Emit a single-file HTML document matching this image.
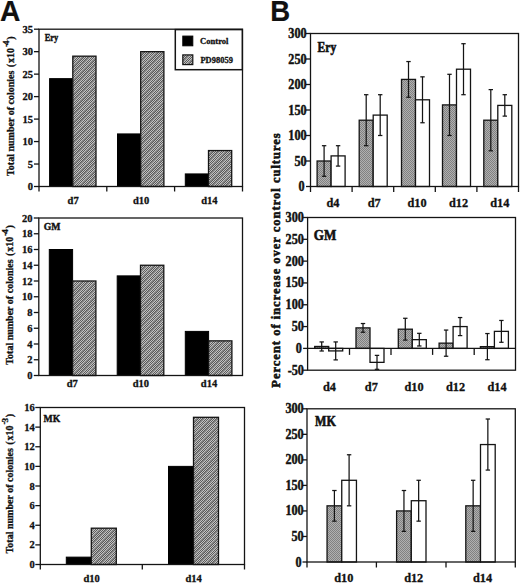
<!DOCTYPE html><html><head><meta charset="utf-8"><title>Figure</title>
<style>html,body{margin:0;padding:0;background:#fff;}svg{display:block;}text{font-family:"Liberation Serif",serif;font-weight:bold;fill:#111;stroke:#111;stroke-width:0.3px;}.sans{font-family:"Liberation Sans",sans-serif;}</style></head><body>
<svg width="520" height="585" viewBox="0 0 520 585">
<defs>
<pattern id="hatch" patternUnits="userSpaceOnUse" width="14" height="14"><path d="M0 0h1v1h-1zM2 0h1v1h-1zM4 0h1v1h-1zM8 0h1v1h-1zM10 0h1v1h-1zM1 1h1v1h-1zM3 1h1v1h-1zM7 1h1v1h-1zM9 1h1v1h-1zM13 1h1v1h-1zM0 2h1v1h-1zM2 2h1v1h-1zM6 2h1v1h-1zM8 2h1v1h-1zM12 2h1v1h-1zM1 3h1v1h-1zM5 3h1v1h-1zM7 3h1v1h-1zM11 3h1v1h-1zM13 3h1v1h-1zM0 4h1v1h-1zM4 4h1v1h-1zM6 4h1v1h-1zM10 4h1v1h-1zM12 4h1v1h-1zM3 5h1v1h-1zM5 5h1v1h-1zM9 5h1v1h-1zM11 5h1v1h-1zM13 5h1v1h-1zM2 6h1v1h-1zM4 6h1v1h-1zM8 6h1v1h-1zM10 6h1v1h-1zM12 6h1v1h-1zM1 7h1v1h-1zM3 7h1v1h-1zM7 7h1v1h-1zM9 7h1v1h-1zM11 7h1v1h-1zM0 8h1v1h-1zM2 8h1v1h-1zM6 8h1v1h-1zM8 8h1v1h-1zM10 8h1v1h-1zM1 9h1v1h-1zM5 9h1v1h-1zM7 9h1v1h-1zM9 9h1v1h-1zM13 9h1v1h-1zM0 10h1v1h-1zM4 10h1v1h-1zM6 10h1v1h-1zM8 10h1v1h-1zM12 10h1v1h-1zM3 11h1v1h-1zM5 11h1v1h-1zM7 11h1v1h-1zM11 11h1v1h-1zM13 11h1v1h-1zM2 12h1v1h-1zM4 12h1v1h-1zM6 12h1v1h-1zM10 12h1v1h-1zM12 12h1v1h-1zM1 13h1v1h-1zM3 13h1v1h-1zM5 13h1v1h-1zM9 13h1v1h-1zM11 13h1v1h-1z" fill="#5a5a5a"/><path d="M1 0h1v1h-1zM3 0h1v1h-1zM7 0h1v1h-1zM9 0h1v1h-1zM11 0h1v1h-1zM0 1h1v1h-1zM2 1h1v1h-1zM6 1h1v1h-1zM8 1h1v1h-1zM10 1h1v1h-1zM1 2h1v1h-1zM5 2h1v1h-1zM7 2h1v1h-1zM9 2h1v1h-1zM13 2h1v1h-1zM0 3h1v1h-1zM4 3h1v1h-1zM6 3h1v1h-1zM8 3h1v1h-1zM12 3h1v1h-1zM3 4h1v1h-1zM5 4h1v1h-1zM7 4h1v1h-1zM11 4h1v1h-1zM13 4h1v1h-1zM2 5h1v1h-1zM4 5h1v1h-1zM6 5h1v1h-1zM10 5h1v1h-1zM12 5h1v1h-1zM1 6h1v1h-1zM3 6h1v1h-1zM5 6h1v1h-1zM9 6h1v1h-1zM11 6h1v1h-1zM0 7h1v1h-1zM2 7h1v1h-1zM4 7h1v1h-1zM8 7h1v1h-1zM10 7h1v1h-1zM1 8h1v1h-1zM3 8h1v1h-1zM7 8h1v1h-1zM9 8h1v1h-1zM13 8h1v1h-1zM0 9h1v1h-1zM2 9h1v1h-1zM6 9h1v1h-1zM8 9h1v1h-1zM12 9h1v1h-1zM1 10h1v1h-1zM5 10h1v1h-1zM7 10h1v1h-1zM11 10h1v1h-1zM13 10h1v1h-1zM0 11h1v1h-1zM4 11h1v1h-1zM6 11h1v1h-1zM10 11h1v1h-1zM12 11h1v1h-1zM3 12h1v1h-1zM5 12h1v1h-1zM9 12h1v1h-1zM11 12h1v1h-1zM13 12h1v1h-1zM2 13h1v1h-1zM4 13h1v1h-1zM8 13h1v1h-1zM10 13h1v1h-1zM12 13h1v1h-1z" fill="#c2c2c2"/><path d="M5 0h1v1h-1zM6 0h1v1h-1zM12 0h1v1h-1zM13 0h1v1h-1zM4 1h1v1h-1zM5 1h1v1h-1zM11 1h1v1h-1zM12 1h1v1h-1zM3 2h1v1h-1zM4 2h1v1h-1zM10 2h1v1h-1zM11 2h1v1h-1zM2 3h1v1h-1zM3 3h1v1h-1zM9 3h1v1h-1zM10 3h1v1h-1zM1 4h1v1h-1zM2 4h1v1h-1zM8 4h1v1h-1zM9 4h1v1h-1zM0 5h1v1h-1zM1 5h1v1h-1zM7 5h1v1h-1zM8 5h1v1h-1zM0 6h1v1h-1zM6 6h1v1h-1zM7 6h1v1h-1zM13 6h1v1h-1zM5 7h1v1h-1zM6 7h1v1h-1zM12 7h1v1h-1zM13 7h1v1h-1zM4 8h1v1h-1zM5 8h1v1h-1zM11 8h1v1h-1zM12 8h1v1h-1zM3 9h1v1h-1zM4 9h1v1h-1zM10 9h1v1h-1zM11 9h1v1h-1zM2 10h1v1h-1zM3 10h1v1h-1zM9 10h1v1h-1zM10 10h1v1h-1zM1 11h1v1h-1zM2 11h1v1h-1zM8 11h1v1h-1zM9 11h1v1h-1zM0 12h1v1h-1zM1 12h1v1h-1zM7 12h1v1h-1zM8 12h1v1h-1zM0 13h1v1h-1zM6 13h1v1h-1zM7 13h1v1h-1zM13 13h1v1h-1z" fill="#868686"/></pattern>
<pattern id="stip" patternUnits="userSpaceOnUse" width="2" height="2"><rect width="2" height="2" fill="#b0b0b0"/><rect width="1" height="1" fill="#818181"/><rect x="1" y="1" width="1" height="1" fill="#818181"/></pattern>
</defs>
<text transform="translate(-0.11,20.80) scale(0.954,1)" font-size="29.57" style="font-family:'Liberation Sans',sans-serif;stroke-width:0.2px">A</text>
<text transform="translate(270.21,20.80) scale(0.960,1)" font-size="28.70" style="font-family:'Liberation Sans',sans-serif;stroke-width:0.2px">B</text>
<rect x="49.60" y="78.64" width="23.20" height="107.86" fill="#000" stroke="#000" stroke-width="1.0"/>
<rect x="72.80" y="56.17" width="23.20" height="130.33" fill="url(#hatch)" stroke="#141414" stroke-width="1.3"/>
<rect x="117.50" y="133.92" width="23.20" height="52.58" fill="#000" stroke="#000" stroke-width="1.0"/>
<rect x="140.70" y="51.67" width="23.20" height="134.83" fill="url(#hatch)" stroke="#141414" stroke-width="1.3"/>
<rect x="185.30" y="173.92" width="23.20" height="12.58" fill="#000" stroke="#000" stroke-width="1.0"/>
<rect x="208.50" y="150.55" width="23.20" height="35.95" fill="url(#hatch)" stroke="#141414" stroke-width="1.3"/>
<rect x="39.00" y="29.20" width="203.50" height="157.30" fill="none" stroke="#141414" stroke-width="1.3"/>
<line x1="34.00" y1="186.50" x2="39.00" y2="186.50" stroke="#141414" stroke-width="1.3"/>
<text x="33.00" y="190.07" font-size="10.5" text-anchor="end" >0</text>
<line x1="34.00" y1="164.03" x2="39.00" y2="164.03" stroke="#141414" stroke-width="1.3"/>
<text x="33.00" y="167.60" font-size="10.5" text-anchor="end" >5</text>
<line x1="34.00" y1="141.56" x2="39.00" y2="141.56" stroke="#141414" stroke-width="1.3"/>
<text x="33.00" y="145.13" font-size="10.5" text-anchor="end" >10</text>
<line x1="34.00" y1="119.09" x2="39.00" y2="119.09" stroke="#141414" stroke-width="1.3"/>
<text x="33.00" y="122.66" font-size="10.5" text-anchor="end" >15</text>
<line x1="34.00" y1="96.61" x2="39.00" y2="96.61" stroke="#141414" stroke-width="1.3"/>
<text x="33.00" y="100.18" font-size="10.5" text-anchor="end" >20</text>
<line x1="34.00" y1="74.14" x2="39.00" y2="74.14" stroke="#141414" stroke-width="1.3"/>
<text x="33.00" y="77.71" font-size="10.5" text-anchor="end" >25</text>
<line x1="34.00" y1="51.67" x2="39.00" y2="51.67" stroke="#141414" stroke-width="1.3"/>
<text x="33.00" y="55.24" font-size="10.5" text-anchor="end" >30</text>
<line x1="34.00" y1="29.20" x2="39.00" y2="29.20" stroke="#141414" stroke-width="1.3"/>
<text x="33.00" y="32.77" font-size="10.5" text-anchor="end" >35</text>
<line x1="39.00" y1="186.50" x2="39.00" y2="191.50" stroke="#141414" stroke-width="1.3"/>
<line x1="106.80" y1="186.50" x2="106.80" y2="191.50" stroke="#141414" stroke-width="1.3"/>
<line x1="174.60" y1="186.50" x2="174.60" y2="191.50" stroke="#141414" stroke-width="1.3"/>
<line x1="242.50" y1="186.50" x2="242.50" y2="191.50" stroke="#141414" stroke-width="1.3"/>
<text x="73.10" y="203.60" font-size="10.5" text-anchor="middle" >d7</text>
<text x="141.20" y="203.60" font-size="10.5" text-anchor="middle" >d10</text>
<text x="209.30" y="203.60" font-size="10.5" text-anchor="middle" >d14</text>
<text transform="translate(44.72,41.30) scale(0.820,1)" font-size="10.31" style="stroke-width:0.4px">Ery</text>
<g transform="translate(13.70,175.90) rotate(-90)">
<text x="0" y="0" font-size="10">Total number of colonies</text>
<text x="108.6" y="0" font-size="10">(</text>
<text x="113.0" y="0" font-size="10">x10</text>
<text x="128.8" y="-4.90" font-size="10">-</text>
<text x="131.0" y="-4.60" font-size="9.2">4</text>
<text x="136.2" y="0" font-size="10">)</text>
</g>
<rect x="175.30" y="29.60" width="67.00" height="40.10" fill="#fff" stroke="#141414" stroke-width="1.5"/>
<rect x="182.80" y="36.10" width="10.00" height="9.70" fill="#000" stroke="#000" stroke-width="1.0"/>
<rect x="182.80" y="54.90" width="10.00" height="9.70" fill="url(#hatch)" stroke="#141414" stroke-width="1.2"/>
<text transform="translate(200.12,43.80) scale(1.018,1)" font-size="8.42">Control</text>
<text transform="translate(200.42,62.80) scale(0.932,1)" font-size="9.10">PD98059</text>
<rect x="49.30" y="249.50" width="23.30" height="126.00" fill="#000" stroke="#000" stroke-width="1.0"/>
<rect x="72.60" y="281.00" width="23.30" height="94.50" fill="url(#hatch)" stroke="#141414" stroke-width="1.3"/>
<rect x="117.20" y="275.88" width="23.30" height="99.62" fill="#000" stroke="#000" stroke-width="1.0"/>
<rect x="140.50" y="265.25" width="23.30" height="110.25" fill="url(#hatch)" stroke="#141414" stroke-width="1.3"/>
<rect x="185.30" y="331.40" width="23.30" height="44.10" fill="#000" stroke="#000" stroke-width="1.0"/>
<rect x="208.60" y="340.85" width="23.30" height="34.65" fill="url(#hatch)" stroke="#141414" stroke-width="1.3"/>
<rect x="38.80" y="218.00" width="203.70" height="157.50" fill="none" stroke="#141414" stroke-width="1.3"/>
<line x1="33.80" y1="375.50" x2="38.80" y2="375.50" stroke="#141414" stroke-width="1.3"/>
<text x="32.40" y="379.07" font-size="10.5" text-anchor="end" >0</text>
<line x1="33.80" y1="359.75" x2="38.80" y2="359.75" stroke="#141414" stroke-width="1.3"/>
<text x="32.40" y="363.32" font-size="10.5" text-anchor="end" >2</text>
<line x1="33.80" y1="344.00" x2="38.80" y2="344.00" stroke="#141414" stroke-width="1.3"/>
<text x="32.40" y="347.57" font-size="10.5" text-anchor="end" >4</text>
<line x1="33.80" y1="328.25" x2="38.80" y2="328.25" stroke="#141414" stroke-width="1.3"/>
<text x="32.40" y="331.82" font-size="10.5" text-anchor="end" >6</text>
<line x1="33.80" y1="312.50" x2="38.80" y2="312.50" stroke="#141414" stroke-width="1.3"/>
<text x="32.40" y="316.07" font-size="10.5" text-anchor="end" >8</text>
<line x1="33.80" y1="296.75" x2="38.80" y2="296.75" stroke="#141414" stroke-width="1.3"/>
<text x="32.40" y="300.32" font-size="10.5" text-anchor="end" >10</text>
<line x1="33.80" y1="281.00" x2="38.80" y2="281.00" stroke="#141414" stroke-width="1.3"/>
<text x="32.40" y="284.57" font-size="10.5" text-anchor="end" >12</text>
<line x1="33.80" y1="265.25" x2="38.80" y2="265.25" stroke="#141414" stroke-width="1.3"/>
<text x="32.40" y="268.82" font-size="10.5" text-anchor="end" >14</text>
<line x1="33.80" y1="249.50" x2="38.80" y2="249.50" stroke="#141414" stroke-width="1.3"/>
<text x="32.40" y="253.07" font-size="10.5" text-anchor="end" >16</text>
<line x1="33.80" y1="233.75" x2="38.80" y2="233.75" stroke="#141414" stroke-width="1.3"/>
<text x="32.40" y="237.32" font-size="10.5" text-anchor="end" >18</text>
<line x1="33.80" y1="218.00" x2="38.80" y2="218.00" stroke="#141414" stroke-width="1.3"/>
<text x="32.40" y="221.57" font-size="10.5" text-anchor="end" >20</text>
<text x="72.30" y="386.90" font-size="10.5" text-anchor="middle" >d7</text>
<text x="140.80" y="386.90" font-size="10.5" text-anchor="middle" >d10</text>
<text x="209.00" y="386.90" font-size="10.5" text-anchor="middle" >d14</text>
<text transform="translate(43.76,229.80) scale(0.965,1)" font-size="10.08" style="stroke-width:0.4px">GM</text>
<g transform="translate(12.80,364.70) rotate(-90)">
<text x="0" y="0" font-size="10">Total number of colonies</text>
<text x="108.6" y="0" font-size="10">(</text>
<text x="113.0" y="0" font-size="10">x10</text>
<text x="128.8" y="-4.90" font-size="10">-</text>
<text x="131.0" y="-4.60" font-size="9.2">4</text>
<text x="136.2" y="0" font-size="10">)</text>
</g>
<rect x="66.30" y="557.14" width="25.00" height="7.36" fill="#000" stroke="#000" stroke-width="1.0"/>
<rect x="91.30" y="528.19" width="25.00" height="36.31" fill="url(#hatch)" stroke="#141414" stroke-width="1.3"/>
<rect x="168.50" y="466.38" width="25.00" height="98.12" fill="#000" stroke="#000" stroke-width="1.0"/>
<rect x="193.50" y="417.31" width="25.00" height="147.19" fill="url(#hatch)" stroke="#141414" stroke-width="1.3"/>
<rect x="40.30" y="407.50" width="204.20" height="157.00" fill="none" stroke="#141414" stroke-width="1.3"/>
<line x1="35.30" y1="564.50" x2="40.30" y2="564.50" stroke="#141414" stroke-width="1.3"/>
<text x="34.80" y="568.07" font-size="10.5" text-anchor="end" >0</text>
<line x1="35.30" y1="544.88" x2="40.30" y2="544.88" stroke="#141414" stroke-width="1.3"/>
<text x="34.80" y="548.45" font-size="10.5" text-anchor="end" >2</text>
<line x1="35.30" y1="525.25" x2="40.30" y2="525.25" stroke="#141414" stroke-width="1.3"/>
<text x="34.80" y="528.82" font-size="10.5" text-anchor="end" >4</text>
<line x1="35.30" y1="505.62" x2="40.30" y2="505.62" stroke="#141414" stroke-width="1.3"/>
<text x="34.80" y="509.19" font-size="10.5" text-anchor="end" >6</text>
<line x1="35.30" y1="486.00" x2="40.30" y2="486.00" stroke="#141414" stroke-width="1.3"/>
<text x="34.80" y="489.57" font-size="10.5" text-anchor="end" >8</text>
<line x1="35.30" y1="466.38" x2="40.30" y2="466.38" stroke="#141414" stroke-width="1.3"/>
<text x="34.80" y="469.94" font-size="10.5" text-anchor="end" >10</text>
<line x1="35.30" y1="446.75" x2="40.30" y2="446.75" stroke="#141414" stroke-width="1.3"/>
<text x="34.80" y="450.32" font-size="10.5" text-anchor="end" >12</text>
<line x1="35.30" y1="427.12" x2="40.30" y2="427.12" stroke="#141414" stroke-width="1.3"/>
<text x="34.80" y="430.69" font-size="10.5" text-anchor="end" >14</text>
<line x1="35.30" y1="407.50" x2="40.30" y2="407.50" stroke="#141414" stroke-width="1.3"/>
<text x="34.80" y="411.07" font-size="10.5" text-anchor="end" >16</text>
<line x1="40.30" y1="564.50" x2="40.30" y2="569.50" stroke="#141414" stroke-width="1.3"/>
<line x1="142.30" y1="564.50" x2="142.30" y2="569.50" stroke="#141414" stroke-width="1.3"/>
<line x1="244.50" y1="564.50" x2="244.50" y2="569.50" stroke="#141414" stroke-width="1.3"/>
<text x="91.60" y="581.60" font-size="10.5" text-anchor="middle" >d10</text>
<text x="193.60" y="581.60" font-size="10.5" text-anchor="middle" >d14</text>
<text transform="translate(43.60,421.80) scale(0.956,1)" font-size="10.15" style="stroke-width:0.4px">MK</text>
<g transform="translate(12.80,553.40) rotate(-90)">
<text x="0" y="0" font-size="10">Total number of colonies</text>
<text x="108.6" y="0" font-size="10">(</text>
<text x="113.0" y="0" font-size="10">x10</text>
<text x="128.8" y="-5.40" font-size="10">-</text>
<text x="131.0" y="-5.10" font-size="9.2">3</text>
<text x="136.2" y="0" font-size="10">)</text>
</g>
<rect x="317.10" y="161.00" width="14.00" height="25.50" fill="url(#stip)" stroke="#141414" stroke-width="1.3"/>
<rect x="331.10" y="155.90" width="14.00" height="30.60" fill="#fff" stroke="#141414" stroke-width="1.3"/>
<line x1="324.10" y1="145.70" x2="324.10" y2="176.30" stroke="#141414" stroke-width="1.25"/>
<line x1="321.90" y1="145.70" x2="326.30" y2="145.70" stroke="#141414" stroke-width="1.25"/>
<line x1="321.90" y1="176.30" x2="326.30" y2="176.30" stroke="#141414" stroke-width="1.25"/>
<line x1="338.10" y1="145.70" x2="338.10" y2="166.10" stroke="#141414" stroke-width="1.25"/>
<line x1="335.90" y1="145.70" x2="340.30" y2="145.70" stroke="#141414" stroke-width="1.25"/>
<line x1="335.90" y1="166.10" x2="340.30" y2="166.10" stroke="#141414" stroke-width="1.25"/>
<rect x="359.20" y="120.20" width="14.00" height="66.30" fill="url(#stip)" stroke="#141414" stroke-width="1.3"/>
<rect x="373.20" y="115.10" width="14.00" height="71.40" fill="#fff" stroke="#141414" stroke-width="1.3"/>
<line x1="366.20" y1="94.70" x2="366.20" y2="145.70" stroke="#141414" stroke-width="1.25"/>
<line x1="364.00" y1="94.70" x2="368.40" y2="94.70" stroke="#141414" stroke-width="1.25"/>
<line x1="364.00" y1="145.70" x2="368.40" y2="145.70" stroke="#141414" stroke-width="1.25"/>
<line x1="380.20" y1="94.70" x2="380.20" y2="135.50" stroke="#141414" stroke-width="1.25"/>
<line x1="378.00" y1="94.70" x2="382.40" y2="94.70" stroke="#141414" stroke-width="1.25"/>
<line x1="378.00" y1="135.50" x2="382.40" y2="135.50" stroke="#141414" stroke-width="1.25"/>
<rect x="401.50" y="79.40" width="14.00" height="107.10" fill="url(#stip)" stroke="#141414" stroke-width="1.3"/>
<rect x="415.50" y="99.80" width="14.00" height="86.70" fill="#fff" stroke="#141414" stroke-width="1.3"/>
<line x1="408.50" y1="61.55" x2="408.50" y2="97.25" stroke="#141414" stroke-width="1.25"/>
<line x1="406.30" y1="61.55" x2="410.70" y2="61.55" stroke="#141414" stroke-width="1.25"/>
<line x1="406.30" y1="97.25" x2="410.70" y2="97.25" stroke="#141414" stroke-width="1.25"/>
<line x1="422.50" y1="76.85" x2="422.50" y2="122.75" stroke="#141414" stroke-width="1.25"/>
<line x1="420.30" y1="76.85" x2="424.70" y2="76.85" stroke="#141414" stroke-width="1.25"/>
<line x1="420.30" y1="122.75" x2="424.70" y2="122.75" stroke="#141414" stroke-width="1.25"/>
<rect x="442.50" y="104.90" width="14.00" height="81.60" fill="url(#stip)" stroke="#141414" stroke-width="1.3"/>
<rect x="456.50" y="69.20" width="14.00" height="117.30" fill="#fff" stroke="#141414" stroke-width="1.3"/>
<line x1="449.50" y1="74.30" x2="449.50" y2="135.50" stroke="#141414" stroke-width="1.25"/>
<line x1="447.30" y1="74.30" x2="451.70" y2="74.30" stroke="#141414" stroke-width="1.25"/>
<line x1="447.30" y1="135.50" x2="451.70" y2="135.50" stroke="#141414" stroke-width="1.25"/>
<line x1="463.50" y1="43.70" x2="463.50" y2="94.70" stroke="#141414" stroke-width="1.25"/>
<line x1="461.30" y1="43.70" x2="465.70" y2="43.70" stroke="#141414" stroke-width="1.25"/>
<line x1="461.30" y1="94.70" x2="465.70" y2="94.70" stroke="#141414" stroke-width="1.25"/>
<rect x="483.80" y="120.20" width="14.00" height="66.30" fill="url(#stip)" stroke="#141414" stroke-width="1.3"/>
<rect x="497.80" y="105.41" width="14.00" height="81.09" fill="#fff" stroke="#141414" stroke-width="1.3"/>
<line x1="490.80" y1="89.60" x2="490.80" y2="150.80" stroke="#141414" stroke-width="1.25"/>
<line x1="488.60" y1="89.60" x2="493.00" y2="89.60" stroke="#141414" stroke-width="1.25"/>
<line x1="488.60" y1="150.80" x2="493.00" y2="150.80" stroke="#141414" stroke-width="1.25"/>
<line x1="504.80" y1="94.70" x2="504.80" y2="116.12" stroke="#141414" stroke-width="1.25"/>
<line x1="502.60" y1="94.70" x2="507.00" y2="94.70" stroke="#141414" stroke-width="1.25"/>
<line x1="502.60" y1="116.12" x2="507.00" y2="116.12" stroke="#141414" stroke-width="1.25"/>
<rect x="310.50" y="33.50" width="208.00" height="153.00" fill="none" stroke="#141414" stroke-width="1.3"/>
<line x1="306.00" y1="186.50" x2="310.50" y2="186.50" stroke="#141414" stroke-width="1.3"/>
<text transform="translate(304.60,191.00) scale(1,1.13)" font-size="12.2" text-anchor="end" style="stroke-width:0.4px">0</text>
<line x1="306.00" y1="161.00" x2="310.50" y2="161.00" stroke="#141414" stroke-width="1.3"/>
<text transform="translate(306.60,165.50) scale(1,1.13)" font-size="12.2" text-anchor="end" style="stroke-width:0.4px">50</text>
<line x1="306.00" y1="135.50" x2="310.50" y2="135.50" stroke="#141414" stroke-width="1.3"/>
<text transform="translate(306.60,140.00) scale(1,1.13)" font-size="12.2" text-anchor="end" style="stroke-width:0.4px">100</text>
<line x1="306.00" y1="110.00" x2="310.50" y2="110.00" stroke="#141414" stroke-width="1.3"/>
<text transform="translate(306.60,114.50) scale(1,1.13)" font-size="12.2" text-anchor="end" style="stroke-width:0.4px">150</text>
<line x1="306.00" y1="84.50" x2="310.50" y2="84.50" stroke="#141414" stroke-width="1.3"/>
<text transform="translate(306.60,89.00) scale(1,1.13)" font-size="12.2" text-anchor="end" style="stroke-width:0.4px">200</text>
<line x1="306.00" y1="59.00" x2="310.50" y2="59.00" stroke="#141414" stroke-width="1.3"/>
<text transform="translate(306.60,63.50) scale(1,1.13)" font-size="12.2" text-anchor="end" style="stroke-width:0.4px">250</text>
<line x1="306.00" y1="33.50" x2="310.50" y2="33.50" stroke="#141414" stroke-width="1.3"/>
<text transform="translate(306.60,38.00) scale(1,1.13)" font-size="12.2" text-anchor="end" style="stroke-width:0.4px">300</text>
<line x1="310.50" y1="186.50" x2="310.50" y2="192.00" stroke="#141414" stroke-width="1.3"/>
<line x1="352.10" y1="186.50" x2="352.10" y2="192.00" stroke="#141414" stroke-width="1.3"/>
<line x1="393.70" y1="186.50" x2="393.70" y2="192.00" stroke="#141414" stroke-width="1.3"/>
<line x1="435.30" y1="186.50" x2="435.30" y2="192.00" stroke="#141414" stroke-width="1.3"/>
<line x1="476.90" y1="186.50" x2="476.90" y2="192.00" stroke="#141414" stroke-width="1.3"/>
<line x1="518.50" y1="186.50" x2="518.50" y2="192.00" stroke="#141414" stroke-width="1.3"/>
<text x="333.00" y="207.20" font-size="12.3" text-anchor="middle" >d4</text>
<text x="374.20" y="207.20" font-size="12.3" text-anchor="middle" >d7</text>
<text x="417.10" y="207.20" font-size="12.3" text-anchor="middle" >d10</text>
<text x="458.50" y="207.20" font-size="12.3" text-anchor="middle" >d12</text>
<text x="499.80" y="207.20" font-size="12.3" text-anchor="middle" >d14</text>
<text transform="translate(317.58,51.60) scale(0.836,1)" font-size="13.82" style="stroke-width:0.6px">Ery</text>
<rect x="314.70" y="346.47" width="14.00" height="1.92" fill="url(#stip)" stroke="#141414" stroke-width="1.3"/>
<rect x="328.70" y="348.39" width="14.00" height="2.53" fill="#fff" stroke="#141414" stroke-width="1.3"/>
<line x1="321.70" y1="341.93" x2="321.70" y2="351.00" stroke="#141414" stroke-width="1.25"/>
<line x1="319.50" y1="341.93" x2="323.90" y2="341.93" stroke="#141414" stroke-width="1.25"/>
<line x1="319.50" y1="351.00" x2="323.90" y2="351.00" stroke="#141414" stroke-width="1.25"/>
<line x1="335.70" y1="341.93" x2="335.70" y2="359.90" stroke="#141414" stroke-width="1.25"/>
<line x1="333.50" y1="341.93" x2="337.90" y2="341.93" stroke="#141414" stroke-width="1.25"/>
<line x1="333.50" y1="359.90" x2="337.90" y2="359.90" stroke="#141414" stroke-width="1.25"/>
<rect x="356.00" y="327.88" width="14.00" height="20.51" fill="url(#stip)" stroke="#141414" stroke-width="1.3"/>
<rect x="370.00" y="348.39" width="14.00" height="13.96" fill="#fff" stroke="#141414" stroke-width="1.3"/>
<line x1="363.00" y1="323.52" x2="363.00" y2="332.24" stroke="#141414" stroke-width="1.25"/>
<line x1="360.80" y1="323.52" x2="365.20" y2="323.52" stroke="#141414" stroke-width="1.25"/>
<line x1="360.80" y1="332.24" x2="365.20" y2="332.24" stroke="#141414" stroke-width="1.25"/>
<line x1="377.00" y1="355.37" x2="377.00" y2="369.33" stroke="#141414" stroke-width="1.25"/>
<line x1="374.80" y1="355.37" x2="379.20" y2="355.37" stroke="#141414" stroke-width="1.25"/>
<line x1="374.80" y1="369.33" x2="379.20" y2="369.33" stroke="#141414" stroke-width="1.25"/>
<rect x="398.30" y="329.19" width="14.00" height="19.20" fill="url(#stip)" stroke="#141414" stroke-width="1.3"/>
<rect x="412.30" y="339.66" width="14.00" height="8.73" fill="#fff" stroke="#141414" stroke-width="1.3"/>
<line x1="405.30" y1="318.28" x2="405.30" y2="340.10" stroke="#141414" stroke-width="1.25"/>
<line x1="403.10" y1="318.28" x2="407.50" y2="318.28" stroke="#141414" stroke-width="1.25"/>
<line x1="403.10" y1="340.10" x2="407.50" y2="340.10" stroke="#141414" stroke-width="1.25"/>
<line x1="419.30" y1="333.33" x2="419.30" y2="345.99" stroke="#141414" stroke-width="1.25"/>
<line x1="417.10" y1="333.33" x2="421.50" y2="333.33" stroke="#141414" stroke-width="1.25"/>
<line x1="417.10" y1="345.99" x2="421.50" y2="345.99" stroke="#141414" stroke-width="1.25"/>
<rect x="439.10" y="343.15" width="14.00" height="5.24" fill="url(#stip)" stroke="#141414" stroke-width="1.3"/>
<rect x="453.10" y="326.57" width="14.00" height="21.81" fill="#fff" stroke="#141414" stroke-width="1.3"/>
<line x1="446.10" y1="330.06" x2="446.10" y2="356.24" stroke="#141414" stroke-width="1.25"/>
<line x1="443.90" y1="330.06" x2="448.30" y2="330.06" stroke="#141414" stroke-width="1.25"/>
<line x1="443.90" y1="356.24" x2="448.30" y2="356.24" stroke="#141414" stroke-width="1.25"/>
<line x1="460.10" y1="317.54" x2="460.10" y2="335.60" stroke="#141414" stroke-width="1.25"/>
<line x1="457.90" y1="317.54" x2="462.30" y2="317.54" stroke="#141414" stroke-width="1.25"/>
<line x1="457.90" y1="335.60" x2="462.30" y2="335.60" stroke="#141414" stroke-width="1.25"/>
<rect x="480.40" y="346.64" width="14.00" height="1.75" fill="url(#stip)" stroke="#141414" stroke-width="1.3"/>
<rect x="494.40" y="331.37" width="14.00" height="17.02" fill="#fff" stroke="#141414" stroke-width="1.3"/>
<line x1="487.40" y1="333.55" x2="487.40" y2="359.73" stroke="#141414" stroke-width="1.25"/>
<line x1="485.20" y1="333.55" x2="489.60" y2="333.55" stroke="#141414" stroke-width="1.25"/>
<line x1="485.20" y1="359.73" x2="489.60" y2="359.73" stroke="#141414" stroke-width="1.25"/>
<line x1="501.40" y1="320.46" x2="501.40" y2="342.28" stroke="#141414" stroke-width="1.25"/>
<line x1="499.20" y1="320.46" x2="503.60" y2="320.46" stroke="#141414" stroke-width="1.25"/>
<line x1="499.20" y1="342.28" x2="503.60" y2="342.28" stroke="#141414" stroke-width="1.25"/>
<rect x="307.60" y="217.50" width="207.90" height="152.70" fill="none" stroke="#141414" stroke-width="1.3"/>
<line x1="303.10" y1="370.20" x2="307.60" y2="370.20" stroke="#141414" stroke-width="1.3"/>
<text transform="translate(303.90,374.70) scale(1,1.13)" font-size="12.2" text-anchor="end" style="stroke-width:0.4px">-50</text>
<line x1="303.10" y1="348.39" x2="307.60" y2="348.39" stroke="#141414" stroke-width="1.3"/>
<text transform="translate(301.90,352.89) scale(1,1.13)" font-size="12.2" text-anchor="end" style="stroke-width:0.4px">0</text>
<line x1="303.10" y1="326.57" x2="307.60" y2="326.57" stroke="#141414" stroke-width="1.3"/>
<text transform="translate(303.90,331.07) scale(1,1.13)" font-size="12.2" text-anchor="end" style="stroke-width:0.4px">50</text>
<line x1="303.10" y1="304.76" x2="307.60" y2="304.76" stroke="#141414" stroke-width="1.3"/>
<text transform="translate(303.90,309.26) scale(1,1.13)" font-size="12.2" text-anchor="end" style="stroke-width:0.4px">100</text>
<line x1="303.10" y1="282.94" x2="307.60" y2="282.94" stroke="#141414" stroke-width="1.3"/>
<text transform="translate(303.90,287.44) scale(1,1.13)" font-size="12.2" text-anchor="end" style="stroke-width:0.4px">150</text>
<line x1="303.10" y1="261.13" x2="307.60" y2="261.13" stroke="#141414" stroke-width="1.3"/>
<text transform="translate(303.90,265.63) scale(1,1.13)" font-size="12.2" text-anchor="end" style="stroke-width:0.4px">200</text>
<line x1="303.10" y1="239.31" x2="307.60" y2="239.31" stroke="#141414" stroke-width="1.3"/>
<text transform="translate(303.90,243.81) scale(1,1.13)" font-size="12.2" text-anchor="end" style="stroke-width:0.4px">250</text>
<line x1="303.10" y1="217.50" x2="307.60" y2="217.50" stroke="#141414" stroke-width="1.3"/>
<text transform="translate(303.90,222.00) scale(1,1.13)" font-size="12.2" text-anchor="end" style="stroke-width:0.4px">300</text>
<line x1="307.60" y1="348.39" x2="515.50" y2="348.39" stroke="#141414" stroke-width="1.3"/>
<line x1="349.50" y1="348.39" x2="349.50" y2="354.89" stroke="#141414" stroke-width="1.3"/>
<line x1="391.00" y1="348.39" x2="391.00" y2="354.89" stroke="#141414" stroke-width="1.3"/>
<line x1="432.60" y1="348.39" x2="432.60" y2="354.89" stroke="#141414" stroke-width="1.3"/>
<line x1="474.20" y1="348.39" x2="474.20" y2="354.89" stroke="#141414" stroke-width="1.3"/>
<text x="329.50" y="391.00" font-size="12.3" text-anchor="middle" >d4</text>
<text x="371.30" y="391.00" font-size="12.3" text-anchor="middle" >d7</text>
<text x="414.00" y="391.00" font-size="12.3" text-anchor="middle" >d10</text>
<text x="455.60" y="391.00" font-size="12.3" text-anchor="middle" >d12</text>
<text x="497.00" y="391.00" font-size="12.3" text-anchor="middle" >d14</text>
<text transform="translate(313.80,239.70) scale(0.913,1)" font-size="14.32" style="stroke-width:0.6px">GM</text>
<rect x="327.05" y="505.83" width="14.70" height="56.17" fill="url(#stip)" stroke="#141414" stroke-width="1.3"/>
<rect x="341.75" y="480.29" width="14.70" height="81.71" fill="#fff" stroke="#141414" stroke-width="1.3"/>
<line x1="334.40" y1="490.51" x2="334.40" y2="521.15" stroke="#141414" stroke-width="1.25"/>
<line x1="332.20" y1="490.51" x2="336.60" y2="490.51" stroke="#141414" stroke-width="1.25"/>
<line x1="332.20" y1="521.15" x2="336.60" y2="521.15" stroke="#141414" stroke-width="1.25"/>
<line x1="349.10" y1="454.76" x2="349.10" y2="505.83" stroke="#141414" stroke-width="1.25"/>
<line x1="346.90" y1="454.76" x2="351.30" y2="454.76" stroke="#141414" stroke-width="1.25"/>
<line x1="346.90" y1="505.83" x2="351.30" y2="505.83" stroke="#141414" stroke-width="1.25"/>
<rect x="396.60" y="510.93" width="14.70" height="51.07" fill="url(#stip)" stroke="#141414" stroke-width="1.3"/>
<rect x="411.30" y="500.72" width="14.70" height="61.28" fill="#fff" stroke="#141414" stroke-width="1.3"/>
<line x1="403.95" y1="490.51" x2="403.95" y2="531.36" stroke="#141414" stroke-width="1.25"/>
<line x1="401.75" y1="490.51" x2="406.15" y2="490.51" stroke="#141414" stroke-width="1.25"/>
<line x1="401.75" y1="531.36" x2="406.15" y2="531.36" stroke="#141414" stroke-width="1.25"/>
<line x1="418.65" y1="480.29" x2="418.65" y2="521.15" stroke="#141414" stroke-width="1.25"/>
<line x1="416.45" y1="480.29" x2="420.85" y2="480.29" stroke="#141414" stroke-width="1.25"/>
<line x1="416.45" y1="521.15" x2="420.85" y2="521.15" stroke="#141414" stroke-width="1.25"/>
<rect x="465.80" y="505.83" width="14.70" height="56.17" fill="url(#stip)" stroke="#141414" stroke-width="1.3"/>
<rect x="480.50" y="444.55" width="14.70" height="117.45" fill="#fff" stroke="#141414" stroke-width="1.3"/>
<line x1="473.15" y1="480.29" x2="473.15" y2="531.36" stroke="#141414" stroke-width="1.25"/>
<line x1="470.95" y1="480.29" x2="475.35" y2="480.29" stroke="#141414" stroke-width="1.25"/>
<line x1="470.95" y1="531.36" x2="475.35" y2="531.36" stroke="#141414" stroke-width="1.25"/>
<line x1="487.85" y1="419.01" x2="487.85" y2="470.08" stroke="#141414" stroke-width="1.25"/>
<line x1="485.65" y1="419.01" x2="490.05" y2="419.01" stroke="#141414" stroke-width="1.25"/>
<line x1="485.65" y1="470.08" x2="490.05" y2="470.08" stroke="#141414" stroke-width="1.25"/>
<rect x="307.00" y="408.80" width="208.30" height="153.20" fill="none" stroke="#141414" stroke-width="1.3"/>
<line x1="302.50" y1="562.00" x2="307.00" y2="562.00" stroke="#141414" stroke-width="1.3"/>
<text transform="translate(301.70,566.50) scale(1,1.13)" font-size="12.2" text-anchor="end" style="stroke-width:0.4px">0</text>
<line x1="302.50" y1="536.47" x2="307.00" y2="536.47" stroke="#141414" stroke-width="1.3"/>
<text transform="translate(303.70,540.97) scale(1,1.13)" font-size="12.2" text-anchor="end" style="stroke-width:0.4px">50</text>
<line x1="302.50" y1="510.93" x2="307.00" y2="510.93" stroke="#141414" stroke-width="1.3"/>
<text transform="translate(303.70,515.43) scale(1,1.13)" font-size="12.2" text-anchor="end" style="stroke-width:0.4px">100</text>
<line x1="302.50" y1="485.40" x2="307.00" y2="485.40" stroke="#141414" stroke-width="1.3"/>
<text transform="translate(303.70,489.90) scale(1,1.13)" font-size="12.2" text-anchor="end" style="stroke-width:0.4px">150</text>
<line x1="302.50" y1="459.87" x2="307.00" y2="459.87" stroke="#141414" stroke-width="1.3"/>
<text transform="translate(303.70,464.37) scale(1,1.13)" font-size="12.2" text-anchor="end" style="stroke-width:0.4px">200</text>
<line x1="302.50" y1="434.33" x2="307.00" y2="434.33" stroke="#141414" stroke-width="1.3"/>
<text transform="translate(303.70,438.83) scale(1,1.13)" font-size="12.2" text-anchor="end" style="stroke-width:0.4px">250</text>
<line x1="302.50" y1="408.80" x2="307.00" y2="408.80" stroke="#141414" stroke-width="1.3"/>
<text transform="translate(303.70,413.30) scale(1,1.13)" font-size="12.2" text-anchor="end" style="stroke-width:0.4px">300</text>
<line x1="307.00" y1="562.00" x2="307.00" y2="567.50" stroke="#141414" stroke-width="1.3"/>
<line x1="376.40" y1="562.00" x2="376.40" y2="567.50" stroke="#141414" stroke-width="1.3"/>
<line x1="446.00" y1="562.00" x2="446.00" y2="567.50" stroke="#141414" stroke-width="1.3"/>
<line x1="515.30" y1="562.00" x2="515.30" y2="567.50" stroke="#141414" stroke-width="1.3"/>
<text x="343.80" y="582.30" font-size="12.3" text-anchor="middle" >d10</text>
<text x="413.70" y="582.30" font-size="12.3" text-anchor="middle" >d12</text>
<text x="482.50" y="582.30" font-size="12.3" text-anchor="middle" >d14</text>
<text transform="translate(314.97,426.20) scale(0.849,1)" font-size="14.27" style="stroke-width:0.6px">MK</text>
<text transform="translate(280.2,387.7) rotate(-90)" font-size="12.5" letter-spacing="1.0" style="stroke-width:0.55px">Percent of increase over control cultures</text>
</svg></body></html>
